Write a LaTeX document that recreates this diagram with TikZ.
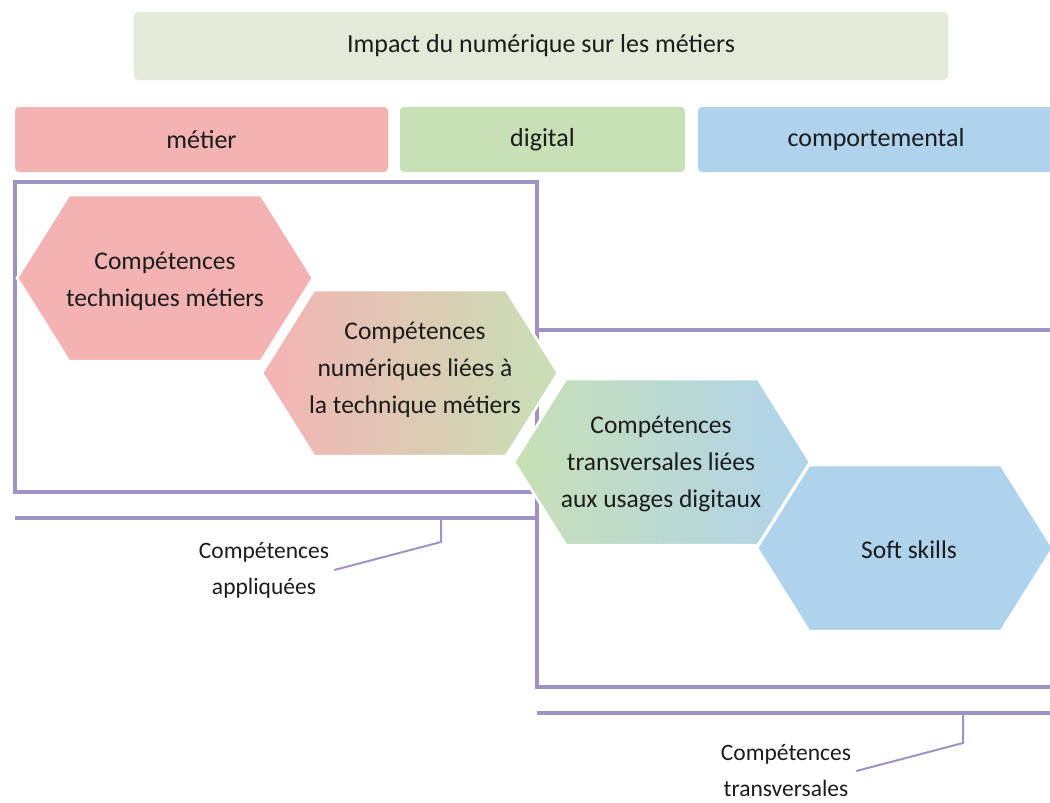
\documentclass[tikz,border=0pt]{standalone}
\usepackage{fontspec}
\setmainfont{Carlito}
\usepackage{tikz}

\definecolor{pinkc}{HTML}{F4B3B3}
\definecolor{greenc}{HTML}{C7E0B5}
\definecolor{bluec}{HTML}{AFD3EC}
\definecolor{bannerc}{HTML}{E3EBD8}
\definecolor{linec}{HTML}{A093C4}
\definecolor{textc}{HTML}{1C1C1C}

\tikzset{
	band/.style={rounded corners=4pt, inner sep=0pt, text=textc, font=\fontsize{26}{30}\selectfont},
	hexa/.style={draw=white, line width=2.5pt},
	hextext/.style={align=center, text=textc, font=\fontsize{25.5}{37}\selectfont},
	frame/.style={draw=linec, line width=3.2pt},
	lbl/.style={align=center, text=textc, inner sep=5pt, font=\fontsize{23.5}{36}\selectfont}
}

% hexagone : centre x, centre y, options
\newcommand{\hexagone}[3]{%
	\path[hexa, #3] (#1-148, #2) -- (#1-96, #2-83) -- (#1+96, #2-83) -- (#1+148, #2)
		-- (#1+96, #2+83) -- (#1-96, #2+83) -- cycle;}

\begin{document}
\begin{tikzpicture}[x=1pt, y=-1pt]
			\useasboundingbox (0, 0) rectangle (1050, 803);
			% bandeaux
			\node [band, fill=bannerc, minimum width=814, minimum height=68] (titre) at (541, 46) {Impact du numérique sur les métiers};
			\node [band, fill=pinkc, minimum width=373, minimum height=65] (metier) at (201.5, 139.5) {métier};
			\node [band, fill=greenc, minimum width=285, minimum height=65] (digital) at (542.5, 139.5) {digital};
			\node [band, fill=bluec, minimum width=356, minimum height=65] (comport) at (876, 139.5) {comportemental};
			% cadres
			\draw [frame] (15, 182) rectangle (537, 492);
			\draw [frame] (1052, 330) -- (537, 330) -- (537, 687) -- (1052, 687);
			\draw [frame] (15, 518) -- (537, 518);
			\draw [frame] (537, 713) -- (1052, 713);
			\coordinate (tickA) at (441, 518);
			\coordinate (tickB) at (963, 713);
			\node [lbl] (appliq) at (264, 570) {Compétences\\appliquées};
			\node [lbl] (transv) at (786, 771) {Compétences\\transversales};
			\draw [frame, line width=2pt] (tickA) -- ++(0, 24) -- (appliq.east);
			\draw [frame, line width=2pt] (tickB) -- ++(0, 30) -- (transv.east);
			% hexagones
			\hexagone{165}{278}{fill=pinkc}
			\hexagone{410}{373}{left color=pinkc, right color=greenc}
			\hexagone{662}{462}{left color=greenc, right color=bluec}
			\hexagone{905}{548}{fill=bluec}
			\node [hextext] (techn) at (165, 281) {Compétences\\techniques métiers};
			\node [hextext] (numer) at (415, 370) {Compétences\\numériques liées à\\la technique métiers};
			\node [hextext] (usage) at (661, 464) {Compétences\\transversales liées\\aux usages digitaux};
			\node [hextext] (soft) at (909, 550) {Soft skills};
\end{tikzpicture}
\end{document}
